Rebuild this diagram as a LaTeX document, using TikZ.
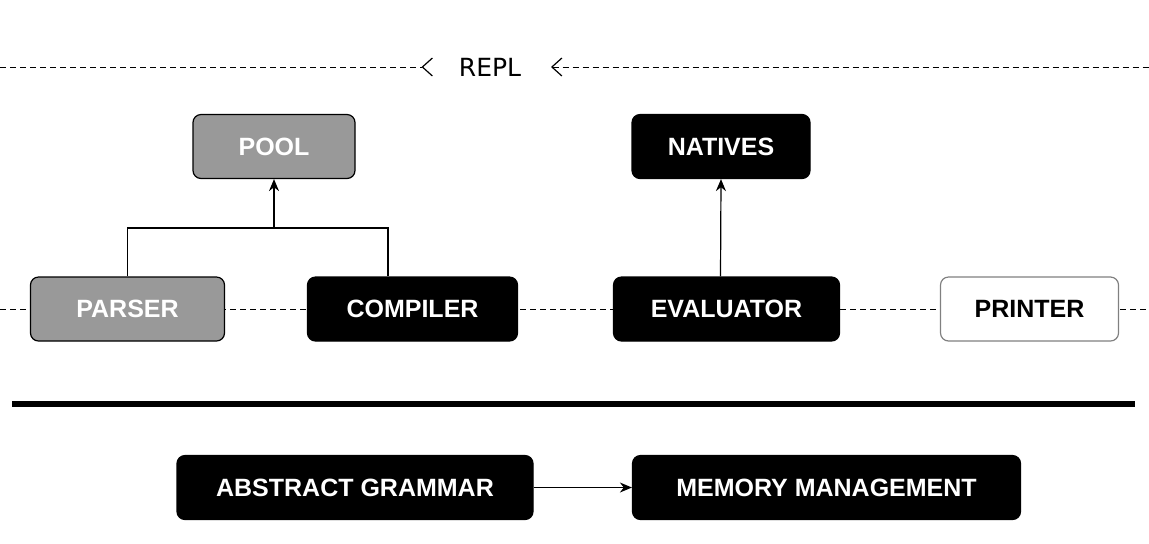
\documentclass[tikz,border=0pt]{standalone}
\usepackage{fontspec}
\setsansfont{Liberation Sans}
\newfontfamily\replfont{DejaVu Sans}
\usetikzlibrary{arrows.meta}

\tikzset{
  block/.style={draw=black, rounded corners=4pt, line width=0.6pt, minimum height=32pt,
    font=\sffamily\bfseries\fontsize{12.5}{14}\selectfont, inner sep=0pt},
  darkblock/.style={block, fill=black, text=white},
  greyblock/.style={block, fill=black!40, text=white},
  whiteblock/.style={block, draw=black!50, fill=white, text=black},
  flow/.style={-{Stealth[length=6pt,width=5pt]}, line width=0.6pt},
  pipe/.style={dashed, line width=0.5pt, dash pattern=on 3pt off 2pt}
}

\begin{document}
\begin{tikzpicture}[x=0.5pt, y=-0.5pt]
    \useasboundingbox (0,0) rectangle (1149,543);

    % repl line
    \node[font=\replfont\fontsize{12.5}{14}\selectfont] (repl) at (490,67) {REPL};
    \coordinate (replL) at (0,67);
    \coordinate (replR) at (1149,67);
    \draw[pipe, -{Straight Barb[reversed, length=5pt, width=9pt, line width=0.6pt]}] (replL) -- (433,67);
    \draw[pipe, {Straight Barb[length=5pt, width=9pt, line width=0.6pt]}-] (551,67) -- (replR);

    % stage line
    \coordinate (stageL) at (0,309);
    \coordinate (stageR) at (1149,309);
    \draw[pipe] (stageL) -- (stageR);

    % stages
    \node[greyblock, minimum width=97pt] (parser) at (127.5,309) {PARSER};
    \node[darkblock, minimum width=105pt] (compiler) at (412.5,309) {COMPILER};
    \node[darkblock, minimum width=113pt] (evaluator) at (726.5,309) {EVALUATOR};
    \node[whiteblock, minimum width=89pt] (printer) at (1029.5,309) {PRINTER};

    \node[greyblock, minimum width=81pt] (pool) at (274,146.5) {POOL};
    \node[darkblock, minimum width=89pt] (natives) at (721,146.5) {NATIVES};

    % links
    \coordinate (join) at (274,228);
    \draw[line width=0.6pt] (parser.north) |- (join) -| ([xshift=-12.25pt]compiler.north);
    \draw[flow] (join) -- (pool.south);
    \draw[flow] ([xshift=-3pt]evaluator.north) -- (natives.south);

    % separator
    \draw[line width=3pt] (12,404) -- (1135,404);

    % bottom
    \node[darkblock, minimum width=178pt] (grammar) at (355,487.5) {ABSTRACT GRAMMAR};
    \node[darkblock, minimum width=194pt] (memory) at (826.5,487.5) {MEMORY MANAGEMENT};
    \draw[flow] (grammar) -- (memory);
\end{tikzpicture}
\end{document}
